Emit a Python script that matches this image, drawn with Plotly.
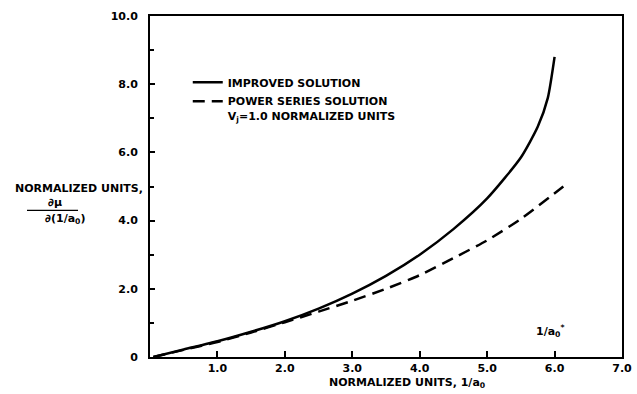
import plotly.graph_objects as go

# Improved solution (solid)
improved_x = [0.05, 0.5, 1.0, 1.5, 2.0, 2.5, 3.0, 3.5, 4.0, 4.5, 5.0, 5.5, 5.75, 5.9, 6.0]
improved_y = [0.0, 0.22, 0.46, 0.74, 1.05, 1.42, 1.86, 2.38, 3.0, 3.75, 4.65, 5.85, 6.75, 7.6, 8.8]

# Power series solution (dashed)
power_x = [0.05, 0.5, 1.0, 1.5, 2.0, 2.5, 3.0, 3.5, 4.0, 4.5, 5.0, 5.5, 6.13]
power_y = [0.0, 0.21, 0.44, 0.72, 1.02, 1.33, 1.65, 2.0, 2.4, 2.9, 3.42, 4.05, 5.0]

x_tickvals = [1, 2, 3, 4, 5, 6, 7]
x_ticktext = ["1.0", "2.0", "3.0", "4.0", "5.0", "6.0", "7.0"]
y_tickvals = [0, 2, 4, 6, 8, 10]
y_ticktext = ["0", "2.0", "4.0", "6.0", "8.0", "10.0"]

FONT = "DejaVu Sans"
F = dict(family=FONT, size=11, color="black", weight="bold")

fig = go.Figure()
fig.add_trace(go.Scatter(x=improved_x, y=improved_y, mode="lines",
                         name="IMPROVED SOLUTION",
                         line=dict(color="black", width=2.5, shape="spline", smoothing=0.6)))
fig.add_trace(go.Scatter(x=power_x, y=power_y, mode="lines",
                         name="POWER SERIES SOLUTION<br>V<sub>j</sub>=1.0 NORMALIZED UNITS",
                         line=dict(color="black", width=2.5, dash="12px,7px", shape="spline", smoothing=0.6)))

fig.update_layout(
    width=637, height=394,
    margin=dict(l=150, r=15, t=16, b=37, autoexpand=False),
    paper_bgcolor="white", plot_bgcolor="white",
    font=F,
    showlegend=True,
    legend=dict(x=0.08, y=0.846, xanchor="left", yanchor="top", valign="top",
                bgcolor="rgba(0,0,0,0)", font=F, tracegroupgap=0),
    xaxis=dict(range=[0, 7], tickvals=x_tickvals, ticktext=x_ticktext, automargin=False,
               showgrid=False, zeroline=False, showline=True, linecolor="black", linewidth=2,
               mirror=True, ticks="inside", ticklen=6, tickwidth=1.5, tickcolor="black",
               ticklabelstandoff=0, tickfont=F),
    yaxis=dict(range=[0, 10], tickvals=y_tickvals, ticktext=y_ticktext, automargin=False,
               showgrid=False, zeroline=False, showline=True, linecolor="black", linewidth=2,
               mirror=True, ticks="inside", ticklen=5, tickwidth=1.5, tickcolor="black",
               ticklabelstandoff=8, tickfont=F,
               minor=dict(tickvals=[1, 3, 5, 7, 9], ticks="inside", ticklen=4, tickcolor="black")),
)

fig.add_annotation(text="NORMALIZED UNITS, 1/a<sub>0</sub>", xref="paper", yref="paper",
                   x=0.5445, y=-0.05, xanchor="center", yanchor="top", showarrow=False, font=F)
fig.add_annotation(text="1/a<sub>0</sub><sup>*</sup>", x=5.94, y=0.75, xanchor="center",
                   yanchor="middle", showarrow=False, font=F)
fig.add_annotation(text="NORMALIZED UNITS,", xref="paper", yref="paper",
                   x=-0.29, y=0.495, xanchor="left", yanchor="middle", showarrow=False, font=F)
fig.add_annotation(text="∂μ", xref="paper", yref="paper",
                   x=-0.201, y=0.452, xanchor="center", yanchor="middle", showarrow=False, font=F)
fig.add_annotation(text="∂(1/a<sub>0</sub>)", xref="paper", yref="paper",
                   x=-0.178, y=0.405, xanchor="center", yanchor="middle", showarrow=False, font=F)
fig.add_shape(type="line", xref="paper", yref="paper", x0=-0.2606, x1=-0.1525,
              y0=0.43, y1=0.43, line=dict(color="black", width=1.2))

fig.write_html("out.html", config={"displayModeBar": False},
               post_script="document.body.style.margin='0px';document.body.style.overflow='hidden';")
